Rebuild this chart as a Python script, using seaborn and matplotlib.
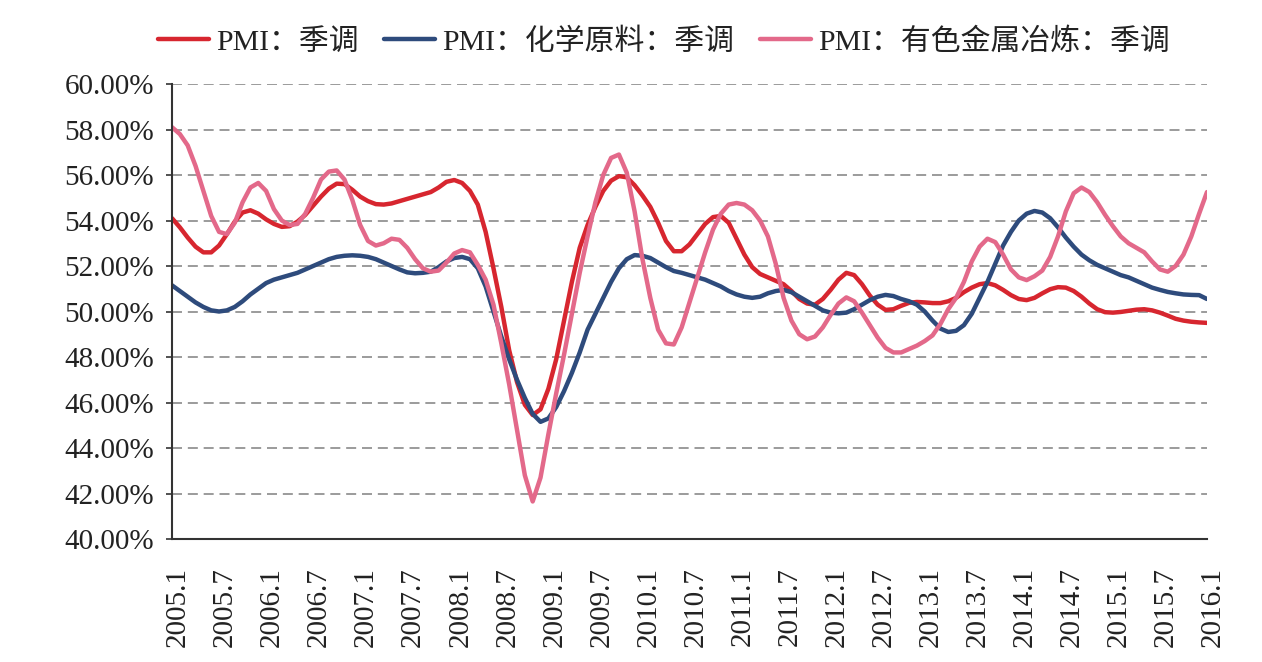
import numpy as np
import pandas as pd
import seaborn as sns
import matplotlib.pyplot as plt
import matplotlib.transforms as mtransforms
from matplotlib.ticker import FuncFormatter

# Monthly series, 2005.1 - 2016.1 (values in %)
pmi = [
    54.1, 53.7, 53.25, 52.85, 52.6, 52.6, 52.9, 53.4, 53.95, 54.35, 54.45, 54.3,
    54.05, 53.85, 53.72, 53.75, 53.95, 54.25, 54.65, 55.05, 55.4, 55.62, 55.6, 55.35,
    55.05, 54.85, 54.72, 54.7, 54.75, 54.85, 54.95, 55.05, 55.15, 55.25, 55.45, 55.7,
    55.78, 55.65, 55.3, 54.7, 53.5, 51.9, 50.2, 48.3, 46.9, 45.9, 45.45, 45.7,
    46.6, 47.9, 49.6, 51.3, 52.8, 53.8, 54.6, 55.3, 55.75, 55.95, 55.9, 55.55,
    55.1, 54.6, 53.9, 53.1, 52.65, 52.65, 52.95, 53.4, 53.85, 54.15, 54.2, 53.9,
    53.2, 52.5, 51.95, 51.65, 51.5, 51.35, 51.2, 50.9, 50.55, 50.35, 50.3, 50.55,
    50.95, 51.4, 51.7, 51.6, 51.2, 50.7, 50.3, 50.07, 50.1, 50.25, 50.38, 50.42,
    50.4, 50.37, 50.37, 50.45, 50.6, 50.85, 51.05, 51.2, 51.25, 51.15, 50.95, 50.72,
    50.55, 50.5, 50.6, 50.8, 50.98, 51.07, 51.05, 50.9, 50.65, 50.35, 50.1, 49.97,
    49.95, 49.98, 50.03, 50.08, 50.1, 50.05, 49.95, 49.82, 49.68, 49.6, 49.55, 49.52,
    49.5,
]
chem = [
    51.15, 50.9, 50.65, 50.4, 50.2, 50.05, 50.0, 50.05, 50.2, 50.45, 50.75, 51.0,
    51.25, 51.4, 51.5, 51.6, 51.7, 51.85, 52.0, 52.15, 52.3, 52.4, 52.45, 52.47,
    52.45, 52.4, 52.3, 52.15, 52.0, 51.85, 51.72, 51.68, 51.7, 51.75, 51.95, 52.2,
    52.35, 52.4, 52.3, 51.9, 51.1, 50.0, 48.9, 47.9, 47.0, 46.2, 45.5, 45.15,
    45.3, 45.8, 46.5, 47.3, 48.2, 49.2, 49.9, 50.6, 51.3, 51.9, 52.3, 52.48,
    52.45, 52.35, 52.15, 51.95, 51.78, 51.7, 51.6, 51.5, 51.4, 51.25, 51.1, 50.9,
    50.75, 50.65, 50.6, 50.65, 50.8, 50.9, 50.95, 50.85, 50.65, 50.45, 50.25, 50.05,
    49.95, 49.92, 49.95, 50.1, 50.3, 50.5, 50.65, 50.73, 50.68, 50.55, 50.45, 50.3,
    50.0, 49.6, 49.25, 49.1, 49.15, 49.4, 49.9, 50.6, 51.3, 52.1, 52.9, 53.5,
    54.0, 54.3, 54.42, 54.35, 54.1, 53.7, 53.25, 52.85, 52.5, 52.25, 52.05, 51.9,
    51.75, 51.6, 51.5, 51.35, 51.2, 51.05, 50.95, 50.86, 50.8, 50.75, 50.73, 50.72,
    50.55,
]
metal = [
    58.1, 57.8, 57.3, 56.4, 55.3, 54.2, 53.5, 53.4, 53.9, 54.8, 55.45, 55.65,
    55.3, 54.5, 54.0, 53.8, 53.85, 54.3, 55.0, 55.8, 56.15, 56.2, 55.8, 54.9,
    53.8, 53.1, 52.9, 53.0, 53.2, 53.15, 52.8, 52.3, 51.9, 51.75, 51.8, 52.15,
    52.55, 52.7, 52.6, 52.05, 51.4, 50.3, 48.6, 46.8, 44.8, 42.8, 41.65, 42.7,
    44.6, 46.4, 48.1, 49.9, 51.7, 53.3, 54.8, 56.0, 56.75, 56.9, 56.1, 54.4,
    52.3, 50.6, 49.2, 48.6, 48.55, 49.3, 50.4, 51.5, 52.6, 53.6, 54.3, 54.7,
    54.77, 54.7, 54.45, 54.0, 53.3, 52.1, 50.6, 49.6, 49.0, 48.78, 48.9, 49.3,
    49.85, 50.35, 50.62, 50.45, 49.95, 49.4, 48.85, 48.4, 48.2, 48.2, 48.35, 48.5,
    48.7, 48.95, 49.45, 50.1, 50.6, 51.3, 52.2, 52.85, 53.2, 53.05, 52.5, 51.85,
    51.5, 51.38, 51.55, 51.8, 52.4, 53.3, 54.4, 55.2, 55.45, 55.25, 54.8, 54.25,
    53.75, 53.3, 53.0, 52.8, 52.6, 52.2, 51.85, 51.75, 52.0, 52.5, 53.3, 54.3,
    55.25,
]
series_names = ['PMI：季调', 'PMI：化学原料：季调', 'PMI：有色金属冶炼：季调']
colors = ['#D7262F', '#2E4B7C', '#E3698A']
tick_labels = [f'{y}.{m}' for y in range(2005, 2017) for m in (1, 7)][:-1]

months = np.arange(len(pmi))
df = pd.DataFrame({
    'month': np.tile(months, 3),
    'value': pmi + chem + metal,
    'series': np.repeat(series_names, len(pmi)),
})

sns.set_style('white')
plt.rcParams['font.family'] = ['Liberation Serif', 'Noto Sans CJK SC']

fig = plt.figure(figsize=(12.62, 6.62), dpi=100)
ax = fig.add_axes([0.1363, 0.1858, 0.8201, 0.6873])

sns.lineplot(data=df, x='month', y='value', hue='series', hue_order=series_names,
             palette=dict(zip(series_names, colors)), linewidth=3.2, ax=ax, legend=True)

ax.set_xlim(0, 132)
ax.set_ylim(40, 60)
ax.set_yticks(np.arange(40, 61, 2))
ax.yaxis.set_major_formatter(FuncFormatter(lambda v, p: f'{v:.2f}%'))
ax.set_xticks(np.arange(0, 133, 6))
ax.set_xticklabels(tick_labels, rotation=90)
ax.set_xlabel('')
ax.set_ylabel('')

# dashed horizontal gridlines
for y in np.arange(42, 61, 2):
    ax.axhline(y, color='#8a8a8a', linewidth=1.2, linestyle=(0, (6, 3.5)), zorder=0)

for s in ['top', 'right']:
    ax.spines[s].set_visible(False)
for s in ['left', 'bottom']:
    ax.spines[s].set_color('#333333')
    ax.spines[s].set_linewidth(1.5)

ax.tick_params(axis='y', labelsize=21, length=4, width=1.2, color='#333333',
               pad=9, labelcolor='#222222', left=True)
ax.tick_params(axis='x', labelsize=21, length=0, pad=20, labelcolor='#222222')

offset = mtransforms.ScaledTranslation(6 / 100, 0, fig.dpi_scale_trans)
for lab in ax.get_xticklabels():
    lab.set_transform(lab.get_transform() + offset)

handles, labels = ax.get_legend_handles_labels()
ax.get_legend().remove()
fig.legend(handles, labels, loc='center', bbox_to_anchor=(0.526, 0.937), ncol=3,
           frameon=False, fontsize=21.5, handlelength=1.7, handletextpad=0.25,
           columnspacing=0.85, labelcolor='#222222')

fig.savefig('out.png', dpi=100)
